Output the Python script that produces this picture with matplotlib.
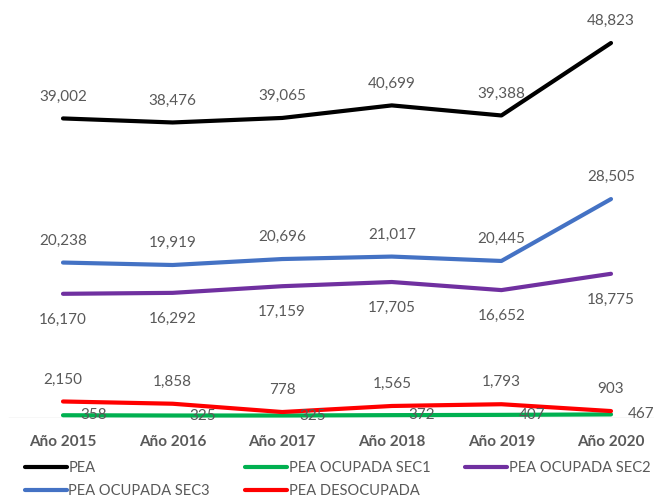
import numpy as np
import matplotlib
matplotlib.use("Agg")
import matplotlib.pyplot as plt

plt.rcParams['font.family'] = ['Lato', 'DejaVu Sans']

anios = ["Año 2015", "Año 2016", "Año 2017", "Año 2018", "Año 2019", "Año 2020"]
pea = [39002, 38476, 39065, 40699, 39388, 48823]
sec1 = [358, 325, 325, 372, 407, 467]
sec2 = [16170, 16292, 17159, 17705, 16652, 18775]
sec3 = [20238, 19919, 20696, 21017, 20445, 28505]
desoc = [2150, 1858, 778, 1565, 1793, 903]

gris = "#595959"
x = np.arange(len(anios))

fig = plt.figure(figsize=(6.54, 4.99), dpi=100)
ax = fig.add_axes([0, 81 / 499, 1, 418 / 499])
ax.set_xlim(-63 / 109.6, 5 + 43 / 109.6)
ax.set_ylim(0, 48823 * 418 / 375)

# (nombre, datos, color, posicion de etiqueta)
series = [
    ("PEA", pea, "#000000", "arriba"),
    ("PEA OCUPADA SEC1", sec1, "#00B050", "derecha"),
    ("PEA OCUPADA SEC2", sec2, "#7030A0", "abajo"),
    ("PEA OCUPADA SEC3", sec3, "#4472C4", "arriba"),
    ("PEA DESOCUPADA", desoc, "#FF0000", "arriba"),
]

lineas = {}
for nombre, datos, color, pos in series:
    l, = ax.plot(x, datos, color=color, lw=3, solid_capstyle='round',
                 solid_joinstyle='round', label=nombre, zorder=3)
    lineas[nombre] = l
    for xi, v in zip(x, datos):
        txt = f"{v:,}"
        if pos == "arriba":
            ax.annotate(txt, (xi, v), xytext=(0, 22), textcoords='offset pixels',
                        ha='center', va='center', fontsize=11, color=gris)
        elif pos == "abajo":
            ax.annotate(txt, (xi, v), xytext=(0, -26), textcoords='offset pixels',
                        ha='center', va='center', fontsize=11, color=gris)
        else:
            ax.annotate(txt, (xi, v), xytext=(17, 0), textcoords='offset pixels',
                        ha='left', va='center', fontsize=11, color=gris, zorder=4)

ax.axhline(0, xmin=9 / 654, xmax=1, color="#D9D9D9", lw=1, zorder=1)

ax.set_xticks(x)
ax.set_xticklabels(anios, fontweight='bold', color=gris, fontsize=11)
ax.tick_params(axis='x', length=0, pad=12)
ax.set_yticks([])
for s in ax.spines.values():
    s.set_visible(False)

orden = ["PEA", "PEA OCUPADA SEC3", "PEA OCUPADA SEC1", "PEA DESOCUPADA", "PEA OCUPADA SEC2"]
fig.legend([lineas[n] for n in orden], orden, ncol=3, loc='upper left',
           bbox_to_anchor=(25 / 654, 1 - 461 / 499), frameon=False,
           fontsize=10.5, labelcolor=gris, handlelength=2.85, handletextpad=0.13,
           columnspacing=2.4, borderaxespad=0, borderpad=0, labelspacing=0.65)

fig.savefig("out.png", dpi=100)
